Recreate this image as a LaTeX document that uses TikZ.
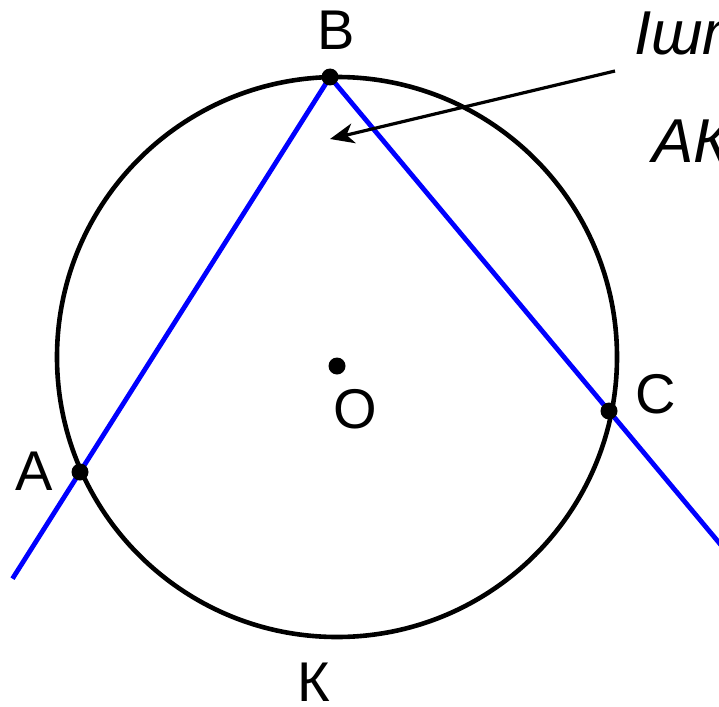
\documentclass[tikz,border=0pt]{standalone}
\usepackage{fontspec}
\setmainfont{Liberation Sans}
\usepackage{tikz}
\usetikzlibrary{arrows.meta,calc}
\usepackage{xcolor}

\begin{document}
\begin{tikzpicture}[
  x=1pt, y=-1pt,
  punto/.style={circle, fill=black, inner sep=0pt, minimum size=17pt},
  etiqueta/.style={font=\fontsize{56}{60}\selectfont, inner sep=0pt},
  nota/.style={font=\fontsize{62}{70}\selectfont\itshape, inner sep=0pt, anchor=base west},
  cuerda/.style={draw=blue, line width=4.8pt},
  flecha/.style={-{Stealth[length=24pt, width=20pt, inset=7pt]}, line width=3.2pt}
]
\useasboundingbox (0,0) rectangle (719,706);
\clip (0,0) rectangle (719,706);
\coordinate (O) at (337,357);
\coordinate (A) at (80,472);
\coordinate (B) at (330,77);
\coordinate (C) at (609,411);
\coordinate (Aext) at ($(B)!1.27!(A)$);
\coordinate (Cext) at ($(B)!1.6!(C)$);
\coordinate (inicio) at (615,71);
\coordinate (punta) at (330,139);
\draw[line width=4.6pt] (O) circle (280);
\draw[cuerda] (Aext) -- (B) -- (Cext);
\draw[flecha] (inicio) -- (punta);
\node[punto] (pA) at (A) {};
\node[punto] (pB) at (B) {};
\node[punto] (pC) at (C) {};
\node[punto] (pO) at (337,366) {};
\node[etiqueta] (lB) at (336,30) {B};
\node[etiqueta] (lA) at (34,471) {A};
\node[etiqueta] (lC) at (656,394) {C};
\node[etiqueta] (lO) at (355,409) {O};
\node[etiqueta] (lK) at (314,682) {К};
\node[nota] (n1) at (634,55) {Іштей сызылған бұрыш};
\node[nota] (n2) at (652,162) {АКС доғасына тірелген};
\end{tikzpicture}
\end{document}
